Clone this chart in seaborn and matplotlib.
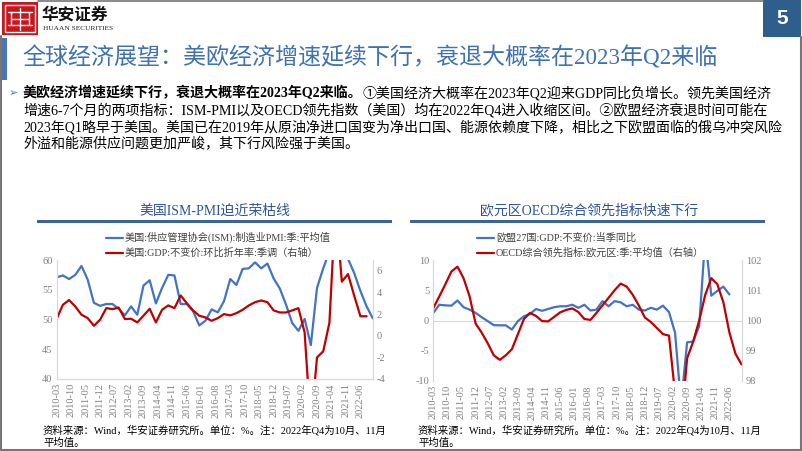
import pandas as pd
import matplotlib
matplotlib.use("Agg")
import matplotlib.pyplot as plt
import seaborn as sns
from matplotlib.patches import Rectangle
from matplotlib.lines import Line2D

W, H = 802, 451

# quarterly data, 2010-03 ... 2022-12 (one row per year)
quarters = pd.date_range("2010-03-01", "2022-12-01", freq="3MS")

us_pmi = [
    57.1, 57.4, 56.8, 57.5,
    59.0, 56.7, 52.8, 52.3,
    52.6, 52.6, 51.8, 50.7,
    52.2, 50.8, 55.7, 56.6,
    52.7, 55.3, 57.5, 57.4,
    52.6, 52.6, 51.4, 49.0,
    49.8, 51.7, 51.2, 53.1,
    56.8, 55.8, 58.5, 58.6,
    59.6, 58.6, 59.4, 56.9,
    55.2, 52.5, 49.4, 48.1,
    50.1, 45.7, 55.3, 58.6,
    61.4, 60.8, 60.2, 60.2,
    57.8, 54.8, 52.2, 50.2,
]
us_gdp = [
    1.57, 2.86, 3.3, 2.7,
    1.94, 1.63, 0.92, 1.48,
    2.55, 2.46, 2.6, 1.54,
    1.57, 1.23, 1.85, 2.49,
    1.23, 2.4, 2.8, 2.55,
    3.72, 3.0, 2.34, 1.85,
    1.69, 1.38, 1.63, 2.0,
    1.88, 2.09, 2.4, 2.8,
    3.1, 3.26, 3.1, 2.34,
    2.15, 2.15, 2.34, 2.55,
    0.3, -8.4, -2.0, -1.45,
    1.2, 12.2, 5.0, 5.7,
    3.7, 1.8, 1.8, None,
]
eu_gdp = [
    1.26, 2.6, 2.5, 2.45,
    3.3, 2.2, 1.8, 1.26,
    0.55, -0.1, -0.77, -0.8,
    -0.8, -1.5, -0.1, 0.7,
    1.1, 1.9, 1.6, 1.9,
    2.2, 2.35, 2.35, 2.6,
    2.1, 2.6, 1.65, 1.8,
    3.2, 2.35, 3.2, 3.0,
    2.35, 2.6, 1.8, 1.65,
    2.1, 1.8, 2.45, 1.4,
    -2.0, -13.8, -3.6, -3.5,
    -0.9, 13.8, 4.1, 4.9,
    5.6, 4.3, None, None,
]
oecd_cli = [
    100.41, 100.8, 101.2, 101.62,
    101.78, 101.4, 100.8, 99.9,
    99.6, 99.25, 98.85, 98.7,
    98.85, 99.05, 99.55, 100.05,
    100.25, 100.15, 99.98, 99.97,
    100.12, 100.27, 100.35, 100.4,
    100.28, 100.05, 100.02, 100.25,
    100.5, 100.75, 101.0, 101.22,
    101.12, 100.85, 100.5, 100.1,
    99.95, 99.75, 99.55, 99.5,
    97.6, 96.5, 98.75, 99.3,
    100.0, 100.85, 101.4, 101.2,
    100.6, 99.6, 98.9, 98.55,
]

x_labels = [
    "2010-03", "2010-10", "2011-05", "2011-12", "2012-07", "2013-02",
    "2013-09", "2014-04", "2014-11", "2015-06", "2016-01", "2016-08",
    "2017-03", "2017-10", "2018-05", "2018-12", "2019-07", "2020-02",
    "2020-09", "2021-04", "2021-11", "2022-06",
]

title = "全球经济展望：美欧经济增速延续下行，衰退大概率在2023年Q2来临"
bullet_bold = "美欧经济增速延续下行，衰退大概率在2023年Q2来临。"
bullet_lines = [
    "①美国经济大概率在2023年Q2迎来GDP同比负增长。领先美国经济",
    "增速6-7个月的两项指标：ISM-PMI以及OECD领先指数（美国）均在2022年Q4进入收缩区间。②欧盟经济衰退时间可能在",
    "2023年Q1略早于美国。美国已在2019年从原油净进口国变为净出口国、能源依赖度下降，相比之下欧盟面临的俄乌冲突风险",
    "外溢和能源供应问题更加严峻，其下行风险强于美国。",
]
left_title = "美国ISM-PMI迫近荣枯线"
right_title = "欧元区OECD综合领先指标快速下行"
left_legend = ["美国:供应管理协会(ISM):制造业PMI:季:平均值", "美国:GDP:不变价:环比折年率:季调（右轴）"]
right_legend = ["欧盟27国:GDP:不变价:当季同比", "OECD综合领先指标:欧元区:季:平均值（右轴）"]
note = ["资料来源：Wind，华安证券研究所。单位：%。注：2022年Q4为10月、11月", "平均值。"]

df = pd.DataFrame({"date": quarters, "pmi": us_pmi, "us_gdp": us_gdp,
                   "eu_gdp": eu_gdp, "cli": oecd_cli})
df["m"] = (df["date"].dt.year - 2010) * 12 + df["date"].dt.month - 3
df = df.astype({"us_gdp": float, "eu_gdp": float})

sns.set_theme(style="white")
MIX = ["Liberation Serif", "Noto Sans CJK SC", "DejaVu Sans"]
plt.rcParams["font.family"] = MIX
plt.rcParams["axes.unicode_minus"] = False

BLUE = "#4472C4"
RED = "#C00000"
GRID = "#D9D9D9"
TICK = "#808080"
FRAME = "#767676"
BODY = 10.1

fig = plt.figure(figsize=(W / 100, H / 100), dpi=100)


def fx(x):
    return x / W


def fy(y):
    return 1 - y / H


def box(x0, y0, x1, y1, color, **kw):
    fig.patches.append(Rectangle((fx(x0), fy(y1)), (x1 - x0) / W, (y1 - y0) / H,
                                 transform=fig.transFigure, color=color, lw=0, **kw))


def hline(x0, x1, y, color, lw):
    fig.add_artist(Line2D([fx(x0), fx(x1)], [fy(y), fy(y)], color=color, lw=lw,
                          transform=fig.transFigure))


def vline(x, y0, y1, color, lw):
    fig.add_artist(Line2D([fx(x), fx(x)], [fy(y0), fy(y1)], color=color, lw=lw,
                          transform=fig.transFigure))


# frame
hline(38, 763, 1, FRAME, 1.2)
vline(1, 36, 450, FRAME, 1.5)
vline(800.5, 37, 450, FRAME, 1.5)
hline(1, 801, 449.5, FRAME, 1.5)

# logo
box(2, 2, 38, 35, "#C8161D")
fig.patches.append(Rectangle((fx(5), fy(32)), 30 / W, 27 / H, transform=fig.transFigure,
                             fill=False, ec="white", lw=1.0))
hline(8, 32, 12, "white", 1.0)
hline(8, 32, 25, "white", 1.0)
hline(11, 29, 18.5, "white", 1.0)
vline(20, 8, 30, "white", 1.0)
vline(11, 12, 25, "white", 1.0)
vline(29, 12, 25, "white", 1.0)
fig.text(fx(42), fy(15), "华安证券", fontsize=12, fontweight="bold",
         family=["Noto Sans CJK SC"], va="center", ha="left", color="#111111")
fig.text(fx(43), fy(29), "HUAAN SECURITIES", fontsize=5.3, family=["Liberation Serif"],
         va="center", ha="left", color="#222222")

# page number
box(763, 0, 801, 37, "#2E5F8C")
fig.text(fx(782), fy(19), "5", fontsize=15, fontweight="bold", family=["Liberation Sans"],
         color="white", ha="center", va="center")

# headline
box(0, 38, 7, 80, "#4A77B4")
fig.text(fx(22), fy(58), title, fontsize=16.6, color="#3F72AF", va="center", ha="left")

# bullet paragraph
fig.text(fx(9), fy(93), "➢", fontsize=8, family=["DejaVu Sans"], color="#4472C4",
         va="center", ha="left")
renderer = fig.canvas.get_renderer()
tb = fig.text(fx(23), fy(93), bullet_bold, fontsize=BODY, fontweight="bold",
              va="center", ha="left", color="black")
bb = tb.get_window_extent(renderer=renderer)
fig.text(bb.x1 / fig.bbox.width, fy(93), bullet_lines[0], fontsize=BODY,
         va="center", ha="left", color="black")
for k, line in enumerate(bullet_lines[1:]):
    fig.text(fx(23), fy(110 + 17 * k), line, fontsize=BODY, va="center", ha="left",
             color="black")


def draw_panel(x0, x1, y0, y1, left_col, right_col, left_lim, right_lim,
               left_ticks, right_ticks, zero_line):
    ax = fig.add_axes([fx(x0), fy(y1), (x1 - x0) / W, (y1 - y0) / H])
    sns.lineplot(data=df, x="m", y=left_col, ax=ax, color=BLUE, lw=1.6)
    axr = ax.twinx()
    sns.lineplot(data=df, x="m", y=right_col, ax=axr, color=RED, lw=1.6)
    ax.set_xlim(0, 153)
    ax.set_ylim(*left_lim)
    axr.set_ylim(*right_lim)
    ax.set_yticks(left_ticks)
    axr.set_yticks(right_ticks)
    ax.set_xticks(range(0, 148, 7))
    ax.set_xticklabels(x_labels, rotation=90)
    for a in (ax, axr):
        a.set_xlabel("")
        a.set_ylabel("")
        a.spines["top"].set_visible(False)
        for s in ("left", "right", "bottom"):
            a.spines[s].set_color(GRID)
            a.spines[s].set_linewidth(0.8)
        a.tick_params(length=0, labelsize=7.5, labelcolor=TICK, pad=3)
    if zero_line:
        ax.axhline(0, color=GRID, lw=0.8, zorder=0)
        for a in (ax, axr):
            a.spines["bottom"].set_visible(False)
    ax.tick_params(axis="x", pad=3)
    return ax, axr


draw_panel(56.7, 372.8, 260, 379, "pmi", "us_gdp", (40, 60), (-4, 7),
           [40, 45, 50, 55, 60], [-4, -2, 0, 2, 4, 6], False)
draw_panel(433.3, 741.5, 260, 381, "eu_gdp", "cli", (-10, 10), (98, 102),
           [-10, -5, 0, 5, 10], [98, 99, 100, 101, 102], True)

# panel titles and bars
for cx, (a, b), txt in [(215, (37, 392), left_title), (589, (410, 765), right_title)]:
    fig.text(fx(cx), fy(211), txt, fontsize=10, color="#2F5597", ha="center", va="center")
    box(a, 219.5, b, 222.5, "#3A6595")

# legends
for lx, labels in [(106, left_legend), (477, right_legend)]:
    for k, (lab, col) in enumerate(zip(labels, [BLUE, RED])):
        yy = 237.5 + 15.5 * k
        hline(lx, lx + 17, yy, col, 1.6)
        fig.text(fx(lx + 19), fy(yy), lab, fontsize=7.3, color="#404040",
                 ha="left", va="center")

# notes
for nx in (43, 418):
    fig.text(fx(nx), fy(430), note[0], fontsize=7.5, color="black", ha="left", va="center")
    fig.text(fx(nx), fy(443), note[1], fontsize=7.5, color="black", ha="left", va="center")

fig.savefig("out.png", dpi=100)
